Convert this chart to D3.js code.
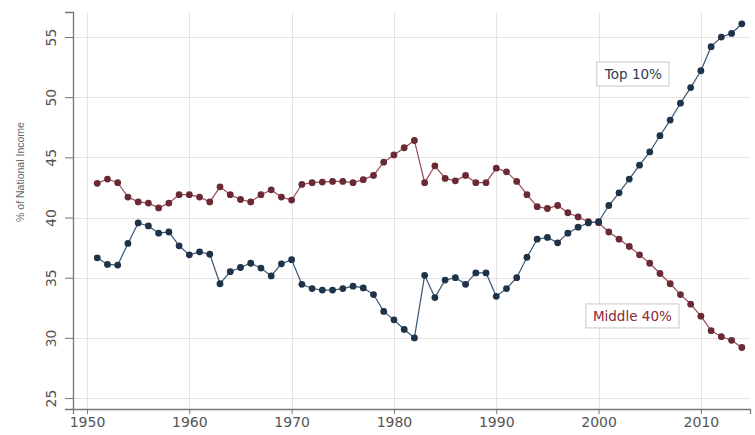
<!DOCTYPE html>
<html>
<head>
<meta charset="utf-8">
<script src="https://cdn.jsdelivr.net/npm/d3@7/dist/d3.min.js"></script>
<style>
  body { margin: 0; background: #fff; }
  svg { display: block; font-family: "DejaVu Sans", sans-serif; }
</style>
</head>
<body>
<svg id="chart"></svg>
<script>
// years on the x axis
const years = [
  1951,1952,1953,1954,1955,1956,1957,1958,1959,1960,
  1961,1962,1963,1964,1965,1966,1967,1968,1969,1970,
  1971,1972,1973,1974,1975,1976,1977,1978,1979,1980,
  1981,1982,1983,1984,1985,1986,1987,1988,1989,1990,
  1991,1992,1993,1994,1995,1996,1997,1998,1999,2000,
  2001,2002,2003,2004,2005,2006,2007,2008,2009,2010,
  2011,2012,2013,2014
];
// share of national income, top 10%
const top10 = [
  36.65,36.1,36.05,37.85,39.55,39.3,38.7,38.8,37.65,36.9,
  37.15,36.95,34.5,35.5,35.85,36.2,35.8,35.15,36.15,36.5,
  34.45,34.1,33.97,33.97,34.1,34.3,34.15,33.6,32.2,31.5,
  30.7,30.0,35.2,33.35,34.8,35.0,34.45,35.4,35.4,33.45,
  34.1,35.0,36.7,38.2,38.35,37.9,38.7,39.2,39.55,39.65,
  41.0,42.05,43.2,44.35,45.45,46.8,48.1,49.5,50.8,52.2,
  54.2,55.0,55.3,56.1
];
// share of national income, middle 40%
const middle40 = [
  42.84,43.2,42.9,41.7,41.3,41.2,40.8,41.2,41.9,41.9,
  41.7,41.3,42.55,41.9,41.5,41.3,41.9,42.3,41.7,41.45,
  42.75,42.9,42.95,43.0,43.0,42.9,43.15,43.5,44.6,45.2,
  45.8,46.4,42.9,44.3,43.25,43.05,43.5,42.9,42.9,44.1,
  43.8,43.0,41.9,40.9,40.75,41.0,40.4,40.05,39.65,39.57,
  38.8,38.2,37.6,36.9,36.2,35.35,34.5,33.6,32.8,31.8,
  30.6,30.1,29.8,29.2
];
const xTicks = [1950,1960,1970,1980,1990,2000,2010];
const yTicks = [25,30,35,40,45,50,55];
const yTitle = '% of National Income';
// series labels: [text, year, value]
const labels = [['Top 10%', 2003.4, 51.9], ['Middle 40%', 2003.3, 31.8]];

const width = 755, height = 435;
const svg = d3.select('#chart').attr('width', width).attr('height', height);
svg.append('rect').attr('width', width).attr('height', height).attr('fill', '#fff');

const x = d3.scaleLinear().domain([1948.63, 2014.8]).range([73, 750]);
const y = d3.scaleLinear().domain([24.09, 57.08]).range([409, 12]);

// grid
const grid = svg.append('g').attr('stroke', '#e4e4e4').attr('stroke-width', 1);
grid.selectAll('.gy').data(yTicks).enter().append('line')
    .attr('x1', x.range()[0]).attr('x2', x.range()[1])
    .attr('y1', d => Math.round(y(d)) + 0.5).attr('y2', d => Math.round(y(d)) + 0.5);
grid.selectAll('.gx').data(xTicks).enter().append('line')
    .attr('y1', y.range()[0]).attr('y2', y.range()[1])
    .attr('x1', d => Math.round(x(d)) + 0.5).attr('x2', d => Math.round(x(d)) + 0.5);

// axes
const xAxis = d3.axisBottom(x).tickValues(xTicks).tickFormat(d3.format('d')).tickSize(5).tickPadding(3);
const yAxis = d3.axisLeft(y).tickValues(yTicks).tickSize(8).tickPadding(4);

const gx = svg.append('g').attr('transform', 'translate(0,409)').call(xAxis);
const gy = svg.append('g').attr('transform', 'translate(73,0)').call(yAxis);
[gx, gy].forEach(g => {
  g.select('.domain').attr('stroke', '#777').attr('stroke-width', 1.3);
  g.selectAll('.tick line').attr('stroke', '#777');
  g.selectAll('.tick text').attr('fill', '#555').attr('font-size', 14)
    .attr('font-family', '"DejaVu Sans", sans-serif');
});
gy.selectAll('.tick text')
    .attr('transform', 'rotate(-90)')
    .attr('x', 0).attr('dx', 0)
    .attr('y', -17).attr('dy', 0)
    .attr('text-anchor', 'middle');

svg.append('text')
    .attr('transform', 'translate(24,172) rotate(-90)')
    .attr('text-anchor', 'middle')
    .attr('font-family', '"Liberation Sans", Arial, sans-serif')
    .attr('font-size', 10.5)
    .attr('fill', '#666')
    .text(yTitle);

// series
const series = [
  { vals: middle40, line: '#9a4a55', dot: '#6a2a33' },
  { vals: top10, line: '#3a5570', dot: '#1e3248' }
];
const line = d3.line().x(d => x(d[0])).y(d => y(d[1]));
series.forEach(s => {
  const pts = years.map((yr, i) => [yr, s.vals[i]]);
  svg.append('path').datum(pts)
      .attr('d', line).attr('fill', 'none')
      .attr('stroke', s.line).attr('stroke-width', 1.2);
  svg.append('g').selectAll('circle').data(pts).enter().append('circle')
      .attr('cx', d => x(d[0])).attr('cy', d => y(d[1]))
      .attr('r', 3.4).attr('fill', s.dot);
});

// label boxes
const labelColors = ['#2e3d4e', '#8a2a34'];
labels.forEach((l, i) => {
  const g = svg.append('g').attr('transform', `translate(${x(l[1])},${y(l[2])})`);
  const t = g.append('text').attr('text-anchor', 'middle').attr('dy', '0.35em')
      .attr('font-size', 13.5).attr('fill', labelColors[i]).text(l[0]);
  const bb = t.node().getBBox();
  g.insert('rect', 'text')
      .attr('x', bb.x - 7).attr('y', bb.y - 4)
      .attr('width', bb.width + 14).attr('height', bb.height + 8)
      .attr('fill', '#fff').attr('stroke', '#c8c8c8');
});
</script>
</body>
</html>
